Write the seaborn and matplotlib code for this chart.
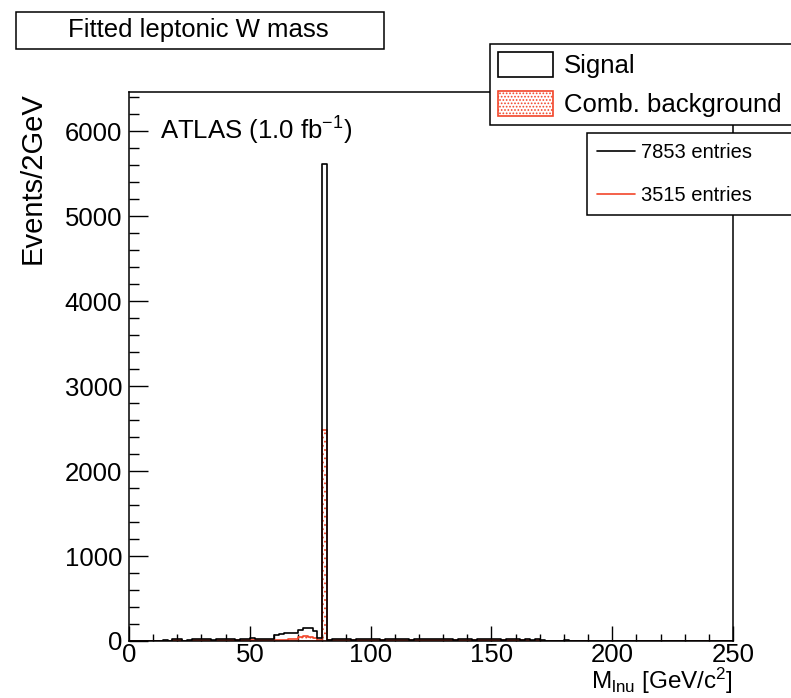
import numpy as np
import pandas as pd
import matplotlib
matplotlib.use("Agg")
import matplotlib.pyplot as plt
import seaborn as sns
from matplotlib.patches import Patch, Rectangle
from matplotlib.lines import Line2D
from matplotlib.ticker import MultipleLocator

# ---------------- data ----------------
bin_width = 2           # GeV
mass_range = (0, 250)   # GeV

signal_counts = (
    [0, 0, 0, 0, 0, 0, 0]
    + [12, 0, 18, 22, 0, 15, 24, 20, 18, 26, 14, 22, 25, 19, 28, 16, 21, 24, 30, 18, 22, 26, 20]
    + [74, 88, 92, 95, 90, 125, 152, 150, 115, 35]
    + [5612]
    + [14, 22, 18, 25, 20, 16, 24, 28, 19, 22, 26, 17, 21, 23, 18, 25, 20, 16, 22, 27, 19, 21,
       24, 18, 23, 20, 15, 22, 26, 19, 17, 21, 24, 20, 18, 23, 16, 22, 19, 25, 17, 20, 14, 18]
    + [15, 0, 0, 0, 0]
    + [12]
    + [0] * 34
)

background_counts = (
    [0, 0, 0, 0, 0, 0, 0]
    + [4, 0, 6, 8, 0, 5, 9, 7, 6, 10, 5, 8, 9, 7, 11, 6, 8, 9, 12, 7, 8, 10, 15]
    + [15, 14, 16, 18, 20, 45, 55, 52, 40, 10]
    + [2482]
    + [6, 9, 7, 10, 8, 6, 9, 11, 7, 8, 10, 6, 8, 9, 7, 10, 8, 6, 8, 11, 7, 8,
       9, 7, 9, 8, 6, 8, 10, 7, 6, 8, 9, 8, 7, 9, 6, 8, 7, 10, 6, 8, 5, 7]
    + [5, 0, 0, 0, 0]
    + [4]
    + [0] * 34
)

signal_entries = 7853
background_entries = 3515
series_labels = ["Signal", "Comb. background"]
title_text = "Fitted leptonic W mass"
atlas_text = r"ATLAS (1.0 fb$^{-1}$)"
x_label = r"M$_{\mathrm{lnu}}$ [GeV/c$^{2}$]"
y_label = "Events/2GeV"

RED = "#f2462a"

# ---------------- style ----------------
sns.set_style("ticks")
plt.rcParams["font.family"] = ["Liberation Sans", "DejaVu Sans"]
plt.rcParams["mathtext.fontset"] = "custom"
plt.rcParams["mathtext.rm"] = "Liberation Sans"
plt.rcParams["mathtext.it"] = "Liberation Sans:italic"
plt.rcParams["mathtext.bf"] = "Liberation Sans:bold"
plt.rcParams["hatch.color"] = RED
plt.rcParams["hatch.linewidth"] = 0.8
for key in ["text.color", "axes.labelcolor", "xtick.color", "ytick.color",
            "xtick.labelcolor", "ytick.labelcolor", "axes.edgecolor"]:
    plt.rcParams[key] = "black"

FS = 18.5

fig = plt.figure(figsize=(7.91, 6.98), dpi=100)
fig.patch.set_facecolor("white")
ax = fig.add_axes([129 / 791, 57 / 698, 604 / 791, 549 / 698])

n_bins = len(signal_counts)
centers = [mass_range[0] + bin_width * (i + 0.5) for i in range(n_bins)]
df = pd.DataFrame({"mass": centers, "signal": signal_counts, "background": background_counts})

sns.histplot(data=df, x="mass", weights="signal", binwidth=bin_width, binrange=mass_range,
             element="step", fill=False, color="black", linewidth=1.2, ax=ax)
sns.histplot(data=df, x="mass", weights="background", binwidth=bin_width, binrange=mass_range,
             element="step", fill=True, color=RED, facecolor="none", edgecolor=RED,
             hatch="....", linewidth=1.2, alpha=1, ax=ax)

ax.set_xlim(*mass_range)
ax.set_ylim(0, 6460)

ax.xaxis.set_major_locator(MultipleLocator(50))
ax.xaxis.set_minor_locator(MultipleLocator(10))
ax.yaxis.set_major_locator(MultipleLocator(1000))
ax.yaxis.set_minor_locator(MultipleLocator(200))

ax.tick_params(axis="x", which="major", direction="in", length=10.8, width=1.0,
               labelsize=FS, pad=1.5, bottom=True, top=False, color="black",
               labelcolor="black")
ax.tick_params(axis="x", which="minor", direction="in", length=5.4, width=1.0,
               bottom=True, top=False, color="black")
ax.tick_params(axis="y", which="major", direction="in", length=13.7, width=1.0,
               labelsize=FS, pad=5, left=True, right=False, color="black",
               labelcolor="black")
ax.tick_params(axis="y", which="minor", direction="in", length=7.0, width=1.0,
               left=True, right=False, color="black")

for s in ax.spines.values():
    s.set_visible(True)
    s.set_color("black")
    s.set_linewidth(1.1)

ax.set_xlabel(x_label, fontsize=17.5, loc="right", color="black")
ax.xaxis.set_label_coords(1.0, -0.046)
ax.set_ylabel(y_label, fontsize=21, loc="top", color="black")
ax.yaxis.set_label_coords(-0.136, 1.0)

ax.text(0.051, 0.929, atlas_text, transform=ax.transAxes, fontsize=FS,
        ha="left", va="center", color="black")

# title box
fig.add_artist(Rectangle((16 / 791, 1 - 49 / 698), 368 / 791, 37 / 698,
                         transform=fig.transFigure, fill=True, facecolor="white",
                         edgecolor="black", linewidth=1.1))
fig.text(198 / 791, 1 - 30.5 / 698, title_text, fontsize=FS, ha="center", va="center",
         color="black")

# legend 1
h1 = [Patch(facecolor="white", edgecolor="black", linewidth=1.2),
      Patch(facecolor="white", edgecolor=RED, hatch=".....", linewidth=1.2)]
leg1 = fig.legend(h1, series_labels, loc="upper left",
                  bbox_to_anchor=(490 / 791, 1 - 127 / 698, 320 / 791, 83 / 698),
                  bbox_transform=fig.transFigure, mode="expand",
                  frameon=True, fancybox=False, edgecolor="black", facecolor="white",
                  framealpha=1, fontsize=FS, handlelength=2.15, handleheight=1.1,
                  handletextpad=0.4, labelspacing=0.5, borderpad=0.32, borderaxespad=0)
leg1.get_frame().set_linewidth(1.1)

# legend 2 (entries)
h2 = [Line2D([], [], color="black", lw=1.2), Line2D([], [], color=RED, lw=1.2)]
leg2 = fig.legend(h2, [f"{signal_entries} entries", f"{background_entries} entries"],
                  loc="upper left",
                  bbox_to_anchor=(587 / 791, 1 - 215 / 698, 220 / 791, 82 / 698),
                  bbox_transform=fig.transFigure, mode="expand", frameon=True,
                  fancybox=False, edgecolor="black", facecolor="white", framealpha=1,
                  fontsize=14.5, handlelength=1.9, handletextpad=0.3, labelspacing=1.2,
                  borderpad=0.5, borderaxespad=0)
leg2.get_frame().set_linewidth(1.1)

fig.savefig("out.png", dpi=100)
